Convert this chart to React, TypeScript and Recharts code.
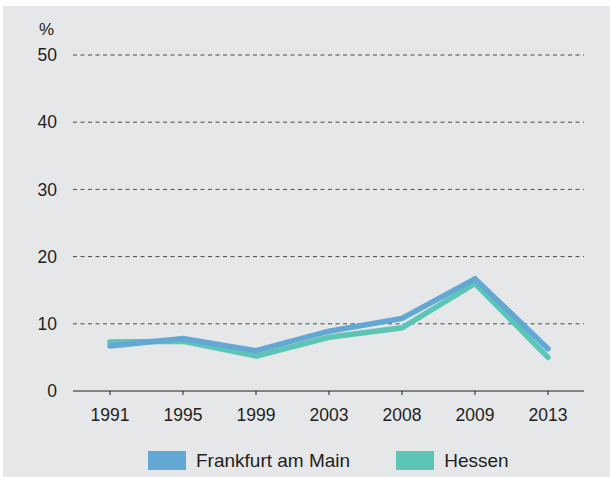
import { LineChart, Line, XAxis, YAxis, CartesianGrid } from "recharts";

const years = ["1991", "1995", "1999", "2003", "2008", "2009", "2013"];
const frankfurt = [6.7, 7.8, 6.0, 8.9, 10.8, 16.7, 6.3];
const hessen = [7.3, 7.4, 5.2, 8.0, 9.4, 16.0, 5.0];
const yTicks = [0, 10, 20, 30, 40, 50];

const series = [
  { key: "frankfurt", name: "Frankfurt am Main", color: "#63a7d4" },
  { key: "hessen", name: "Hessen", color: "#5dc5b5" },
];

const data = years.map((year, i) => ({ year, frankfurt: frankfurt[i], hessen: hessen[i] }));

const font = "'Liberation Sans', Arial, Helvetica, sans-serif";
const ink = "#231f20";
const panel = "#e6e7e9";

export default function App() {
  return (
    <div style={{ position: "absolute", left: 0, top: 0, width: 610, height: 477, background: "#fff", fontFamily: font }}>
      <div style={{ position: "absolute", left: 3, top: 6, width: 607, height: 471, background: panel }} />
      <div style={{ position: "absolute", left: 39, top: 20, fontSize: 17, color: ink, lineHeight: "20px" }}>%</div>
      <div style={{ position: "absolute", left: 0, top: 0 }}>
        <LineChart width={610} height={477} data={data} margin={{ top: 55, right: 26, bottom: 56, left: 0 }}>
          <CartesianGrid
            vertical={false}
            stroke="#4a4a4a"
            strokeDasharray="4 3.5"
            horizontalValues={[10, 20, 30, 40, 50]}
          />
          <XAxis
            dataKey="year"
            height={30}
            padding={{ left: 37, right: 36 }}
            axisLine={{ stroke: ink, strokeWidth: 1 }}
            tickLine={{ stroke: ink }}
            tickSize={4}
            tickMargin={14}
            tick={{ fill: ink, fontSize: 17.5, fontFamily: font }}
          />
          <YAxis
            width={73}
            domain={[0, 50]}
            ticks={yTicks}
            axisLine={false}
            tickLine={false}
            tickSize={0}
            tickMargin={16}
            tick={{ fill: ink, fontSize: 17.5, fontFamily: font }}
          />
          <Line
            dataKey="hessen"
            stroke={series[1].color}
            strokeWidth={5.5}
            strokeLinecap="round"
            dot={false}
            isAnimationActive={false}
          />
          <Line
            dataKey="frankfurt"
            stroke={series[0].color}
            strokeWidth={5.5}
            strokeLinecap="round"
            dot={false}
            isAnimationActive={false}
          />
        </LineChart>
      </div>
      <div style={{ position: "absolute", left: 148, top: 451, display: "flex", alignItems: "center", gap: 46 }}>
        {series.map((s) => (
          <div key={s.key} style={{ display: "flex", alignItems: "center", gap: 10 }}>
            <div style={{ width: 38, height: 19, background: s.color }} />
            <span style={{ fontSize: 19, color: ink, lineHeight: "19px" }}>{s.name}</span>
          </div>
        ))}
      </div>
    </div>
  );
}
